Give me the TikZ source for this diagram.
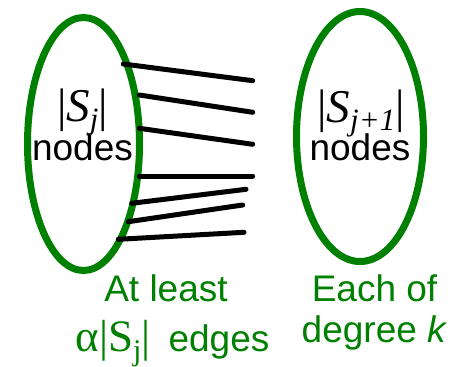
\documentclass[tikz,border=0pt]{standalone}
\usepackage{fontspec}
\setmainfont{Liberation Sans}
\newfontfamily\tserif{Liberation Serif}
\usepackage{tikz}
\usetikzlibrary{shapes.geometric}
\definecolor{setgreen}{RGB}{0,128,0}

\begin{document}
\begin{tikzpicture}[x=1pt,y=-1pt]

	\tikzset{
		setoval/.style={
				ellipse, draw=setgreen, line width=7pt, inner sep=0pt
			},
		edge/.style={
				draw=black, line width=5pt, line cap=round
			},
		lbl/.style={
				anchor=base, inner sep=0pt, font=\fontsize{37}{40}\selectfont
			},
		mathlbl/.style={
				anchor=base, inner sep=0pt, font=\tserif\fontsize{47}{50}\selectfont
			},
		note/.style={
				anchor=base, inner sep=0pt, text=setgreen, font=\fontsize{37}{40}\selectfont
			},
	}

	\useasboundingbox (0,0) rectangle (462,366);

	\node[setoval, minimum width=112pt, minimum height=253pt](Sj) at (83.5,144){};
	\node[setoval, minimum width=127pt, minimum height=250pt](Sk) at (360,136.5){};

	\node[mathlbl](tj) at (82.5,122) {|\textit{S}\raisebox{-0.15em}{\fontsize{31}{33}\selectfont\textit{j}}|};
	\node[lbl](nj) at (82.5,160.7) {nodes};
	\node[mathlbl](tk) at (361,123) {|\textit{S}\raisebox{-0.15em}{\fontsize{31}{33}\selectfont\textit{j+1}}|};
	\node[lbl](nk) at (360,160.7) {nodes};

	\node[note](c1) at (166,301) {At least};
	\node[note](c2) at (172.5,351) {{\tserif\fontsize{45}{48}\selectfont α|S\raisebox{-0.2em}{\fontsize{30}{32}\selectfont j}|}\hspace{18pt}edges};
	\node[note](d1) at (374.5,301) {Each of};
	\node[note](d2) at (374.5,342) {degree \textit{k}};

	\coordinate (a1) at (123.3,64);
	\coordinate (b1) at (252.7,80.7);
	\coordinate (a2) at (139.3,95);
	\coordinate (b2) at (252.7,112.3);
	\coordinate (a3) at (139.3,128.3);
	\coordinate (b3) at (252.7,144.3);
	\coordinate (a4) at (139.3,176);
	\coordinate (b4) at (252.7,176);
	\coordinate (a5) at (131.7,203.3);
	\coordinate (b5) at (246,189.3);
	\coordinate (a6) at (128.3,221.7);
	\coordinate (b6) at (242.7,205);
	\coordinate (a7) at (118.3,239.3);
	\coordinate (b7) at (244,232.3);

	\draw[edge] (a1) -- (b1);
	\draw[edge] (a2) -- (b2);
	\draw[edge] (a3) -- (b3);
	\draw[edge] (a4) -- (b4);
	\draw[edge] (a5) -- (b5);
	\draw[edge] (a6) -- (b6);
	\draw[edge] (a7) -- (b7);
\end{tikzpicture}
\end{document}
